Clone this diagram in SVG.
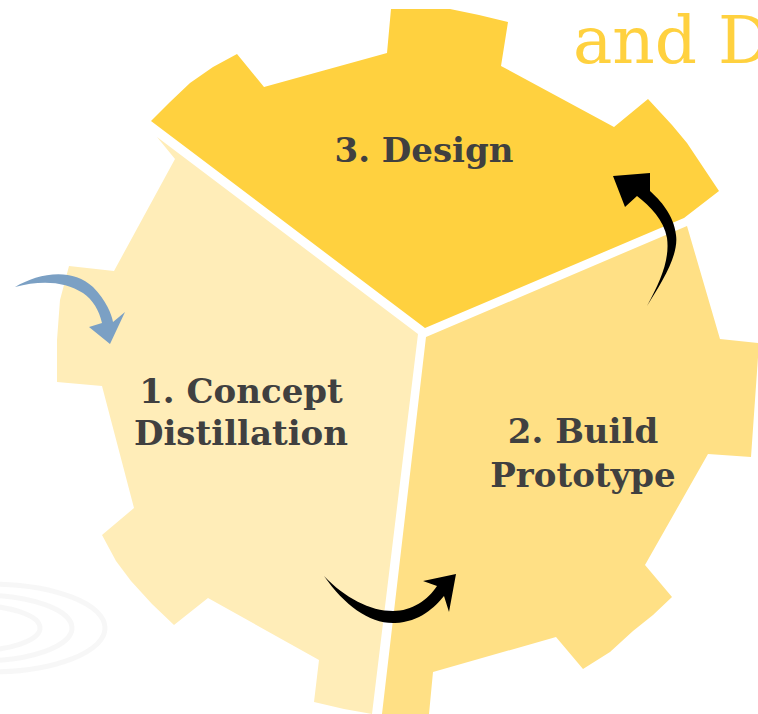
<svg xmlns="http://www.w3.org/2000/svg" width="758" height="714" viewBox="0 0 758 714">
  <style>
    .lbl { font-family: "DejaVu Serif", "Liberation Serif", serif; font-weight: bold; font-size: 34px; fill: #404040; text-anchor: middle; }
    .title { font-family: "DejaVu Serif", "Liberation Serif", serif; font-size: 66px; fill: #FFD13F; }
    .ring { fill: none; stroke: #f5f5f5; stroke-width: 5; }
    .blk { fill: #000000; }
  </style>
  <rect width="758" height="714" fill="#ffffff"/>
  <g id="background-rings" opacity="0.7">
    <ellipse class="ring" cx="-10" cy="628" rx="115" ry="44"/>
    <ellipse class="ring" cx="-20" cy="628" rx="92" ry="33"/>
    <ellipse class="ring" cx="-30" cy="628" rx="70" ry="23"/>
  </g>
  <text class="title" x="573" y="63">and D</text>

  <g id="design">
    <polygon fill="#FFD13F" points="151,121 170,102 190,83 213,67 237,54 264,87 387,53 391,9 450,9 479,15 508,22 501,66 614,127 648,99 672,125 687,143 719,191 684,218 425,328"/>
    <text class="lbl" x="424" y="162">3. Design</text>
  </g>

  <g id="concept">
    <polygon fill="#FFEDB8" points="157,137 175,159 114,271 69,266 60,300 57,340 57,382 102,386 134,508 102,535 116,561 131,581 152,604 174,625 208,598 319,660 314,702 344,709 372,714 418,334"/>
    <text class="lbl" x="241" y="403">1. Concept</text>
    <text class="lbl" x="241" y="445">Distillation</text>
  </g>

  <g id="prototype">
    <polygon fill="#FFE085" points="426,337 687,226 720,339 759,343 751,457 708,454 645,565 672,597 653,615 633,631 610,652 583,669 556,637 433,672 429,714 382,714"/>
    <text class="lbl" x="583" y="443">2. Build</text>
    <text class="lbl" x="583" y="487">Prototype</text>
  </g>

  <g id="connectors">
    <path fill="#7BA0C4" d="M15,287 C38,273 72,267 93,287 C106,300 112,315 113,322 L125,312 L110,344 L89,327 L102,323 C99,310 93,300 83,293 C65,281 40,280 15,287 Z"/>
    <path class="blk" d="M647,306 C662,282 679,255 676,235 C674,215 660,200 650,191 L650,173 L613,176 L625,207 L637,196 C650,206 664,220 667,238 C670,260 660,282 647,306 Z"/>
    <path class="blk" d="M324,576 C345,606 370,624 395,623 C420,622 435,607 444,596 L449,612 L456,574 L423,581 L437,586 C428,600 412,611 393,611 C370,611 345,598 324,576 Z"/>
  </g>
</svg>
